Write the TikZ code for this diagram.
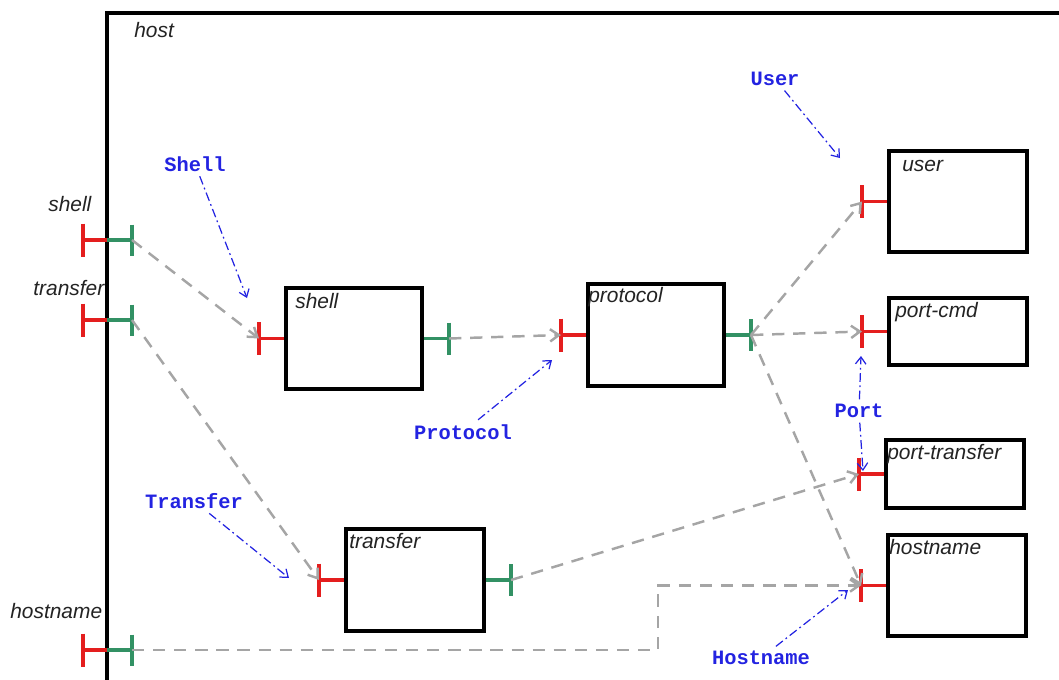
\documentclass[tikz,border=0pt]{standalone}
\usepackage{fontspec}
\setmainfont{Liberation Sans}
\newfontfamily\monob{Liberation Mono}
\usetikzlibrary{arrows.meta}
\definecolor{pred}{RGB}{228,30,30}
\definecolor{pgreen}{RGB}{50,145,100}
\definecolor{cgray}{RGB}{165,165,165}
\definecolor{nblue}{RGB}{35,35,225}
\definecolor{ltext}{RGB}{35,35,35}
\begin{document}
\begin{tikzpicture}[x=0.02cm,y=-0.02cm,
 box/.style={draw=black, line width=2.3pt, fill=white, inner sep=0pt, minimum width=2.74cm},
 lbl/.style={font=\fontsize{11.9}{14}\selectfont\itshape, text=ltext, inner sep=0pt, anchor=base west},
 note/.style={font=\monob\bfseries\fontsize{11.6}{14}\selectfont, text=nblue, inner sep=2.5pt},
 redp/.style={draw=pred, line width=2.1pt},
 grnp/.style={draw=pgreen, line width=2.1pt},
 conn/.style={draw=cgray, line width=1.4pt, dash pattern=on 7pt off 5pt, -{Straight Barb[length=5pt,width=7pt]}},
 ann/.style={draw=nblue, line width=0.7pt, dash pattern=on 5pt off 2pt on 1pt off 2pt, -{Straight Barb[length=4pt,width=6pt]}}
]
\useasboundingbox (0,0) rectangle (1059,680);
% host frame
\draw[line width=2.4pt] (107,690) -- (107,13) -- (1070,13);
\node[lbl] (hostlbl) at (134,37) {host};

% host ports
\coordinate (hs) at (107,240);
\coordinate (ht) at (107,320);
\coordinate (hh) at (107,650);
\foreach \p in {hs,ht,hh}{
  \draw[redp] (\p) -- ++(-24,0) coordinate (\p r);
  \draw[redp] (\p r) ++(0,-16.5) -- ++(0,33);
  \draw[grnp] (\p) -- ++(25,0) coordinate (\p g);
  \draw[grnp] (\p g) ++(0,-15.5) -- ++(0,31);
}
\node[lbl] (hslbl) at (48,211) {shell};
\node[lbl] (htlbl) at (33,295) {transfer};
\node[lbl] (hhlbl) at (10,618) {hostname};

% boxes
\node[box, minimum width=2.72cm, minimum height=2.02cm] (shell) at (354,338.5) {};
\node[box, minimum width=2.72cm, minimum height=2.04cm] (protocol) at (656,335) {};
\node[box, minimum width=2.76cm, minimum height=2.04cm] (transfer) at (415,580) {};
\node[box, minimum width=2.76cm, minimum height=2.02cm] (user) at (958,201.5) {};
\node[box, minimum width=2.76cm, minimum height=1.34cm] (portcmd) at (958,331.5) {};
\node[box, minimum width=2.76cm, minimum height=1.36cm] (porttransfer) at (955,474) {};
\node[box, minimum width=2.76cm, minimum height=2.02cm] (hostname) at (957,585.5) {};

\node[lbl] at ([xshift=11*0.02cm,yshift=-23*0.02cm]shell.north west) {shell};
\node[lbl] at ([xshift=2*0.02cm,yshift=-21*0.02cm]protocol.north west) {protocol};
\node[lbl] at ([xshift=5*0.02cm,yshift=-22*0.02cm]transfer.north west) {transfer};
\node[lbl] at ([xshift=15*0.02cm,yshift=-23*0.02cm]user.north west) {user};
\node[lbl] at ([xshift=8*0.02cm,yshift=-22*0.02cm]portcmd.north west) {port-cmd};
\node[lbl] at ([xshift=3*0.02cm,yshift=-22*0.02cm]porttransfer.north west) {port-transfer};
\node[lbl] at ([xshift=3*0.02cm,yshift=-22*0.02cm]hostname.north west) {hostname};

% red input ports
\foreach \b in {shell,protocol,transfer,user,portcmd,porttransfer,hostname}{
  \draw[redp] (\b.west) -- ++(-25,0) coordinate (\b in);
  \draw[redp] (\b in) ++(0,-16.5) -- ++(0,33);
}
% green output ports
\foreach \b in {shell,protocol,transfer}{
  \draw[grnp] (\b.east) -- ++(25,0) coordinate (\b out);
  \draw[grnp] (\b out) ++(0,-16) -- ++(0,32);
}

% connectors
\draw[conn] (hsg) -- (shellin);
\draw[conn] (htg) -- (transferin);
\coordinate (bend) at (658,650);
\draw[conn] (hhg) -- (bend) |- (hostnamein);
\draw[conn] (shellout) -- (protocolin);
\draw[conn] (protocolout) -- (userin);
\draw[conn] (protocolout) -- (portcmdin);
\draw[conn] (protocolout) -- (hostnamein);
\draw[conn] (transferout) -- (porttransferin);

% annotations
\node[note] (nShell) at (195,164) {Shell};
\node[note] (nUser) at (775,79) {User};
\node[note] (nProtocol) at (463,432) {Protocol};
\node[note] (nTransfer) at (194,501) {Transfer};
\node[note] (nPort) at (859,411) {Port};
\node[note] (nHostname) at (761,658) {Hostname};
\coordinate (tShell) at (247,298);
\coordinate (tUser) at (840,158);
\coordinate (tProtocol) at (552,360);
\coordinate (tTransfer) at (289,578);
\coordinate (tPortA) at (861,356);
\coordinate (tPortB) at (863,471);
\coordinate (tHostname) at (848,590);
\draw[ann] (nShell) -- (tShell);
\draw[ann] (nUser) -- (tUser);
\draw[ann] (nProtocol) -- (tProtocol);
\draw[ann] (nTransfer) -- (tTransfer);
\draw[ann] (nPort) -- (tPortA);
\draw[ann] (nPort) -- (tPortB);
\draw[ann] (nHostname) -- (tHostname);
\end{tikzpicture}
\end{document}
